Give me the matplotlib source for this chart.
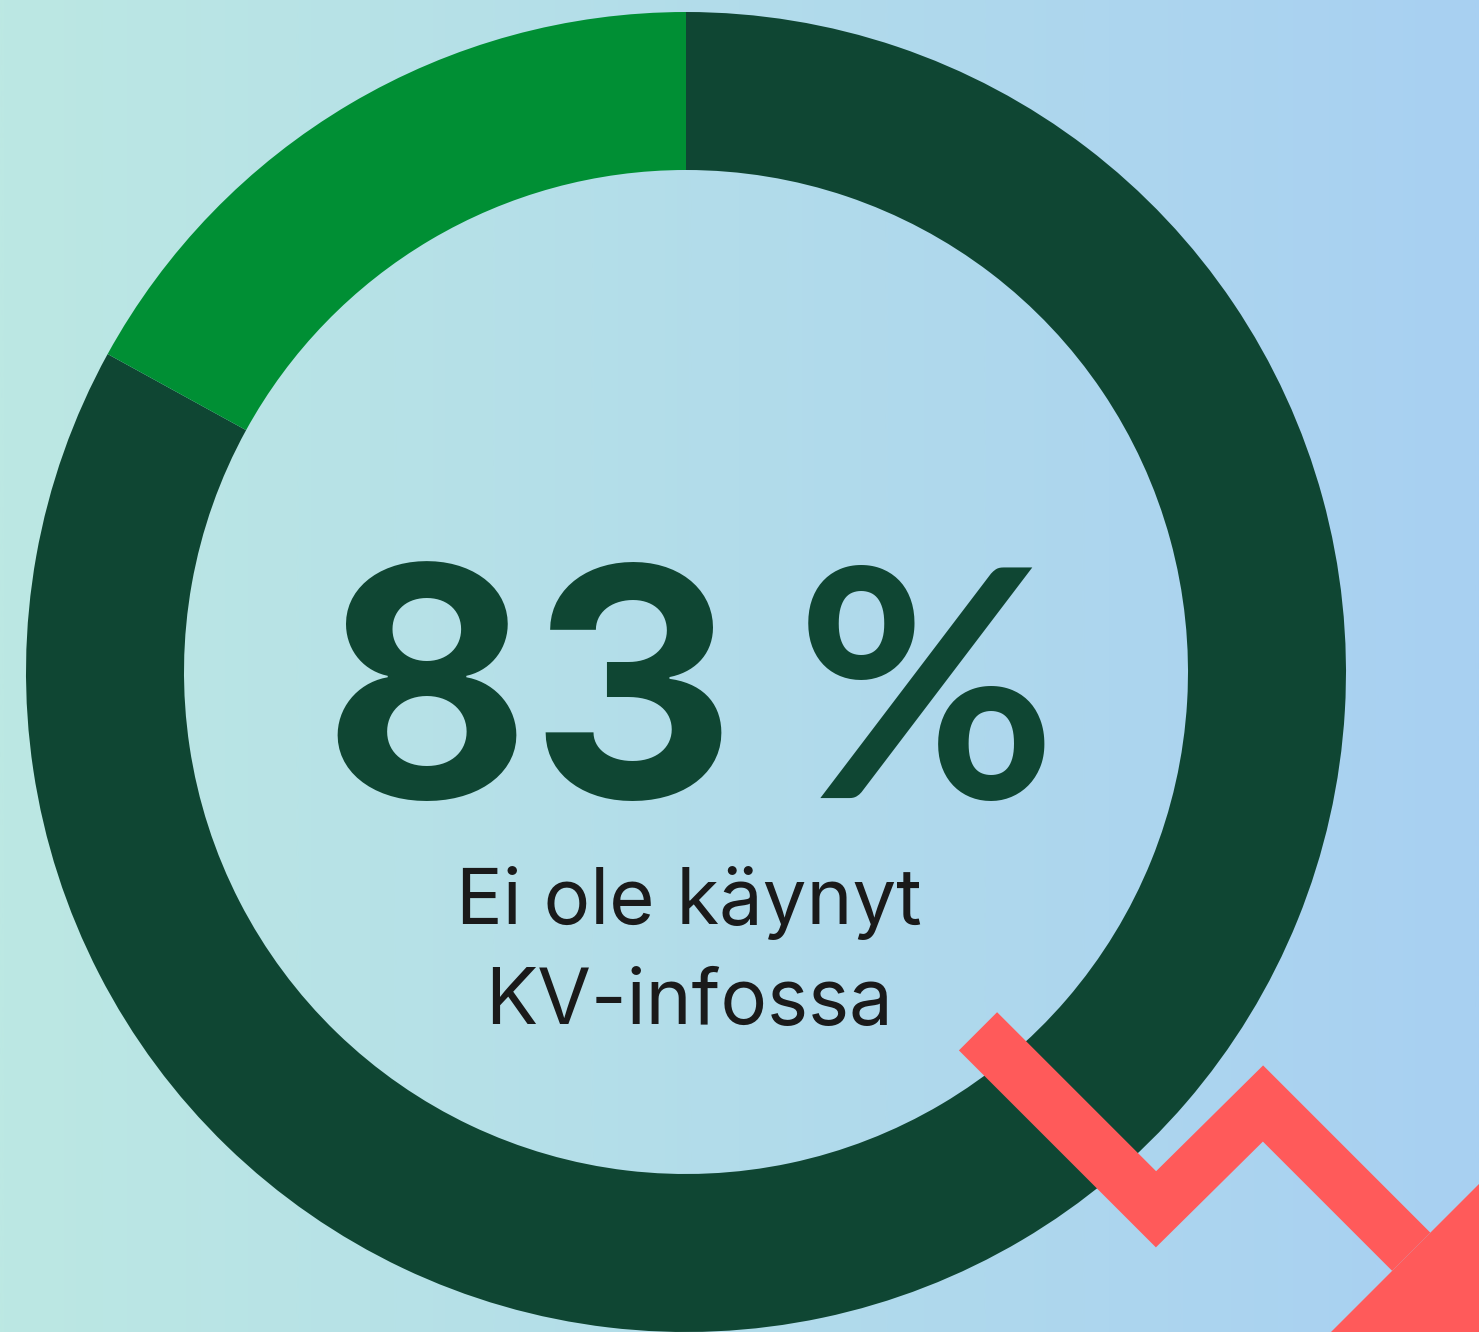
import numpy as np
import matplotlib
matplotlib.use("Agg")
import matplotlib.pyplot as plt
from matplotlib.patches import Polygon
from matplotlib.colors import LinearSegmentedColormap

# ---- data ----
categories = ["Ei ole käynyt KV-infossa", "On käynyt KV-infossa"]
values = [83, 17]
big_number = "83"
big_unit = "%"
sub_label = ["Ei ole käynyt", "KV-infossa"]

# ---- style ----
W, H = 1479, 1332
bg_left, bg_right = "#BCE8E3", "#A8D0F2"
c_dark, c_green = "#0F4633", "#008F34"
c_red = "#FF5A5A"

fig = plt.figure(figsize=(W / 100, H / 100), dpi=100)
ax = fig.add_axes([0, 0, 1, 1])

def Y(yp):
    return H - yp

# gradient background
cmap = LinearSegmentedColormap.from_list("bg", [bg_left, bg_right])
grad = np.linspace(0, 1, 512).reshape(1, -1)
ax.imshow(grad, cmap=cmap, aspect="auto", extent=(0, W, 0, H), zorder=0)

# donut
cx, cy, R, ring = 686, 672, 660, 158
ax.pie(values, colors=[c_dark, c_green], startangle=90, counterclock=False,
       center=(cx, Y(cy)), radius=R,
       wedgeprops=dict(width=ring, linewidth=0, zorder=2))

# central texts
ax.text(529, Y(798), big_number, ha="center", va="baseline", color=c_dark,
        fontsize=230, fontweight="bold", family="Inter", zorder=3)
ax.text(926, Y(798), big_unit, ha="center", va="baseline", color=c_dark,
        fontsize=229, fontweight="bold", family="Lato", zorder=3)
ax.text(689, Y(924), sub_label[0], ha="center", va="baseline", color="#1a1a1a",
        fontsize=56, family="Inter", zorder=3)
ax.text(689, Y(1024), sub_label[1], ha="center", va="baseline", color="#1a1a1a",
        fontsize=56, family="Inter", zorder=3)

# red downward zigzag arrow (decoration)
px = np.array([978, 1156, 1263, 1411.25])
py = np.array([1031.3, 1209.3, 1103.5, 1251.75])
ax.plot(px, Y(py), color=c_red, lw=54 * 0.72, solid_joinstyle="miter",
        solid_capstyle="butt", zorder=4)
bx, by = px[-1], py[-1]
u = np.array([1, 1]) / np.sqrt(2)
n = np.array([1, -1]) / np.sqrt(2)
hw, hl = 135, 160
pts = [(bx + n[0] * hw, by + n[1] * hw), (bx - n[0] * hw, by - n[1] * hw),
       (bx + u[0] * hl, by + u[1] * hl)]
ax.add_patch(Polygon([(p[0], Y(p[1])) for p in pts], closed=True,
                     facecolor=c_red, edgecolor="none", zorder=4))

ax.set_xlim(0, W)
ax.set_ylim(0, H)
ax.set_aspect("auto")
ax.axis("off")
fig.savefig("out.png", dpi=100)
